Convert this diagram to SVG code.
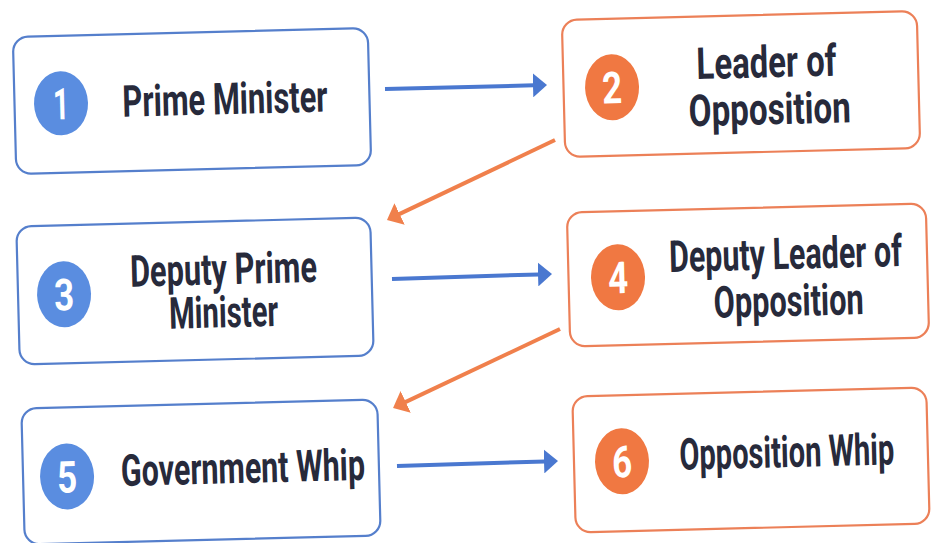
<svg xmlns="http://www.w3.org/2000/svg" width="931" height="543" viewBox="0 0 931 543">
<style>
.box{fill:#ffffff;stroke-width:2.2}
.bl .box{stroke:#557fcc}
.or .box{stroke:#ec8058}
.bl ellipse{fill:#5a8de0}
.or ellipse{fill:#f07842}
.num{font-family:Roboto,"Liberation Sans",sans-serif;font-weight:bold;font-size:44px;fill:#ffffff;text-anchor:middle}
.lbl{font-family:Roboto,"Liberation Sans",sans-serif;font-weight:bold;font-size:44px;fill:#272a3b;text-anchor:middle}
.ab{stroke:#4a78d0;stroke-width:4;fill:none}
.ao{stroke:#f0804c;stroke-width:4;fill:none}
</style>
<defs>
<marker id="hb" viewBox="0 0 14 24" refX="1" refY="12" markerWidth="14" markerHeight="24" markerUnits="userSpaceOnUse" orient="auto"><path d="M0,0 L14,12 L0,24 Z" fill="#4a78d0"/></marker>
<marker id="ho" viewBox="0 0 14 24" refX="1" refY="12" markerWidth="14" markerHeight="24" markerUnits="userSpaceOnUse" orient="auto"><path d="M0,0 L14,12 L0,24 Z" fill="#f0804c"/></marker>
</defs>
<rect width="931" height="543" fill="#ffffff"/>
<g id="connectors">
<line class="ab" x1="385" y1="89" x2="534" y2="85.3" marker-end="url(#hb)"/>
<line class="ao" x1="555" y1="140" x2="398.7" y2="214.4" marker-end="url(#ho)"/>
<line class="ab" x1="392" y1="279" x2="539" y2="274.4" marker-end="url(#hb)"/>
<line class="ao" x1="560" y1="329" x2="404.8" y2="402.4" marker-end="url(#ho)"/>
<line class="ab" x1="397" y1="466" x2="545" y2="461.4" marker-end="url(#hb)"/>
</g>
<g id="node1" class="bl" transform="translate(192,101) rotate(-1.45)">
<rect class="box" x="-177.5" y="-68.5" width="355" height="137" rx="15"/>
<ellipse cx="-131" cy="-1" rx="27" ry="32"/>
<text class="num" transform="scale(0.7,1)" x="-187.14" y="15" textLength="22.9" lengthAdjust="spacingAndGlyphs">1</text>
<text class="lbl" transform="scale(0.7,1)" x="47.14" y="14" textLength="292.9" lengthAdjust="spacingAndGlyphs">Prime Minister</text>
</g>
<g id="node2" class="or" transform="translate(741,84) rotate(-1.45)">
<rect class="box" x="-177.5" y="-68.5" width="355" height="137" rx="15"/>
<ellipse cx="-129" cy="0" rx="27" ry="33"/>
<text class="num" transform="scale(0.7,1)" x="-184.29" y="16" textLength="28.6" lengthAdjust="spacingAndGlyphs">2</text>
<text class="lbl" transform="scale(0.7,1)" x="37.14" y="-6" textLength="200" lengthAdjust="spacingAndGlyphs">Leader of</text>
<text class="lbl" transform="scale(0.7,1)" x="40" y="41" textLength="231.4" lengthAdjust="spacingAndGlyphs">Opposition</text>
</g>
<g id="node3" class="bl" transform="translate(195,291) rotate(-1.45)">
<rect class="box" x="-177" y="-69" width="354" height="138" rx="15"/>
<ellipse cx="-131" cy="0" rx="27" ry="33"/>
<text class="num" transform="scale(0.7,1)" x="-187.14" y="16" textLength="28.6" lengthAdjust="spacingAndGlyphs">3</text>
<text class="lbl" transform="scale(0.7,1)" x="41.43" y="-6" textLength="267.1" lengthAdjust="spacingAndGlyphs">Deputy Prime</text>
<text class="lbl" transform="scale(0.7,1)" x="40" y="37" textLength="155.7" lengthAdjust="spacingAndGlyphs">Minister</text>
</g>
<g id="node4" class="or" transform="translate(748,275) rotate(-1.45)">
<rect class="box" x="-179.5" y="-67" width="359" height="134" rx="15"/>
<ellipse cx="-130" cy="-1" rx="27" ry="33"/>
<text class="num" transform="scale(0.7,1)" x="-185.71" y="15" textLength="28.6" lengthAdjust="spacingAndGlyphs">4</text>
<text class="lbl" transform="scale(0.7,1)" x="54.29" y="-5" textLength="332.9" lengthAdjust="spacingAndGlyphs">Deputy Leader of</text>
<text class="lbl" transform="scale(0.7,1)" x="57.14" y="42" textLength="214.3" lengthAdjust="spacingAndGlyphs">Opposition</text>
</g>
<g id="node5" class="bl" transform="translate(201,472) rotate(-1.45)">
<rect class="box" x="-178" y="-68" width="356" height="136" rx="15"/>
<ellipse cx="-134" cy="1" rx="27" ry="33"/>
<text class="num" transform="scale(0.7,1)" x="-191.43" y="17" textLength="28.6" lengthAdjust="spacingAndGlyphs">5</text>
<text class="lbl" transform="scale(0.7,1)" x="60" y="12" textLength="348.6" lengthAdjust="spacingAndGlyphs">Government Whip</text>
</g>
<g id="node6" class="or" transform="translate(751,460) rotate(-1.45)">
<rect class="box" x="-177" y="-68" width="354" height="136" rx="15"/>
<ellipse cx="-129" cy="-2" rx="27" ry="33"/>
<text class="num" transform="scale(0.7,1)" x="-184.29" y="14" textLength="28.6" lengthAdjust="spacingAndGlyphs">6</text>
<text class="lbl" transform="scale(0.7,1)" x="51.43" y="8" textLength="307.1" lengthAdjust="spacingAndGlyphs">Opposition Whip</text>
</g>
</svg>
